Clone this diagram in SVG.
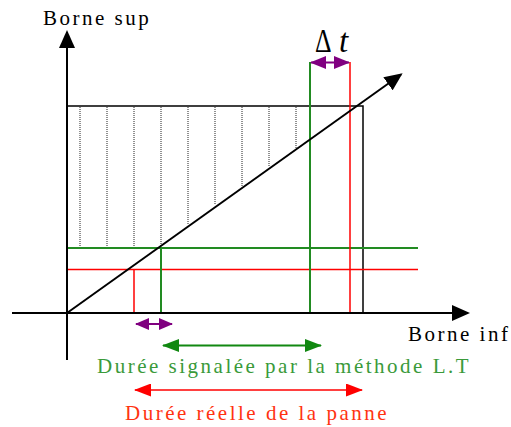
<svg xmlns="http://www.w3.org/2000/svg" width="511" height="427" viewBox="0 0 511 427">
<style>
.txt{font-family:"Liberation Serif","Times New Roman",serif;font-size:21px;letter-spacing:2.5px}
.ax{stroke:#000;stroke-width:2;fill:none}
.dot{stroke:#222;stroke-width:1;stroke-dasharray:1,1}
.g{stroke:#228b22;stroke-width:2;fill:none}
.r{stroke:#ff0000;stroke-width:1.5;fill:none}
.p{stroke:#800080;stroke-width:2;fill:none}
</style>
<defs>
<marker id="ab" markerUnits="userSpaceOnUse" markerWidth="18" markerHeight="16" viewBox="0 0 18 16" refX="16" refY="8" orient="auto"><path d="M0,0 L18,8 L0,16 z" fill="#000"/></marker>
<marker id="ap" markerUnits="userSpaceOnUse" markerWidth="16" markerHeight="13" viewBox="0 0 16 13" refX="15" refY="6.5" orient="auto-start-reverse"><path d="M0,0 L16,6.5 L0,13 z" fill="#800080"/></marker>
<marker id="ap2" markerUnits="userSpaceOnUse" markerWidth="14" markerHeight="12" viewBox="0 0 14 12" refX="13" refY="6" orient="auto-start-reverse"><path d="M0,0 L14,6 L0,12 z" fill="#800080"/></marker>
<marker id="ag" markerUnits="userSpaceOnUse" markerWidth="17" markerHeight="13" viewBox="0 0 17 13" refX="16" refY="6.5" orient="auto-start-reverse"><path d="M0,0 L17,6.5 L0,13 z" fill="#118811"/></marker>
<marker id="ar" markerUnits="userSpaceOnUse" markerWidth="17" markerHeight="13" viewBox="0 0 17 13" refX="16" refY="6.5" orient="auto-start-reverse"><path d="M0,0 L17,6.5 L0,13 z" fill="#ff0000"/></marker>
</defs>
<g id="hatching">
<line class="dot" x1="80" y1="107" x2="80" y2="248"/>
<line class="dot" x1="107" y1="107" x2="107" y2="248"/>
<line class="dot" x1="134" y1="107" x2="134" y2="248"/>
<line class="dot" x1="161" y1="107" x2="161" y2="248"/>
<line class="dot" x1="188" y1="107" x2="188" y2="225"/>
<line class="dot" x1="215" y1="107" x2="215" y2="205"/>
<line class="dot" x1="242" y1="107" x2="242" y2="187"/>
<line class="dot" x1="269" y1="107" x2="269" y2="167"/>
<line class="dot" x1="296" y1="107" x2="296" y2="149"/>
</g>
<g id="rect"><rect x="67" y="106" width="296" height="207" fill="none" stroke="#000" stroke-width="1.5"/></g>
<g id="levels">
<line class="g" x1="67" y1="248" x2="418" y2="248" stroke-width="1.5"/>
<line class="r" x1="67" y1="269.5" x2="418" y2="269.5"/>
<line class="r" x1="134" y1="269.5" x2="134" y2="313"/>
<line class="g" x1="161" y1="248" x2="161" y2="313"/>
<line class="g" x1="310" y1="62" x2="310" y2="313"/>
<line class="r" x1="350" y1="62" x2="350" y2="313"/>
</g>
<g id="axes">
<line class="ax" x1="67" y1="360" x2="67" y2="32" marker-end="url(#ab)"/>
<line class="ax" x1="12" y1="313" x2="468" y2="313" marker-end="url(#ab)"/>
<line class="ax" x1="67" y1="313" x2="401" y2="74.5" marker-end="url(#ab)"/>
</g>
<g id="connectors">
<line class="p" x1="311" y1="62.5" x2="349" y2="62.5" marker-start="url(#ap)" marker-end="url(#ap)"/>
<line class="p" x1="136" y1="324" x2="172" y2="324" marker-start="url(#ap2)" marker-end="url(#ap2)"/>
<line stroke="#118811" stroke-width="2" x1="163" y1="345.5" x2="321" y2="345.5" marker-start="url(#ag)" marker-end="url(#ag)"/>
<line stroke="#ff0000" stroke-width="1.5" x1="135" y1="390" x2="362" y2="390" marker-start="url(#ar)" marker-end="url(#ar)"/>
</g>
<g id="labels">
<text class="txt" x="43" y="25" fill="#000">Borne sup</text>
<text class="txt" x="408" y="341" fill="#000">Borne inf</text>
<text transform="translate(315,52) scale(0.78,1)" font-family="'Liberation Serif','Times New Roman',serif" font-size="33" fill="#000">Δ</text>
<text x="339" y="52" font-family="'Liberation Serif','Times New Roman',serif" font-size="33" font-style="italic" fill="#000">t</text>
<text class="txt" x="97" y="373" fill="#3a9a3a">Durée signalée par la méthode L.T</text>
<text class="txt" x="125" y="420" fill="#ff3311">Durée réelle de la panne</text>
</g>
</svg>
